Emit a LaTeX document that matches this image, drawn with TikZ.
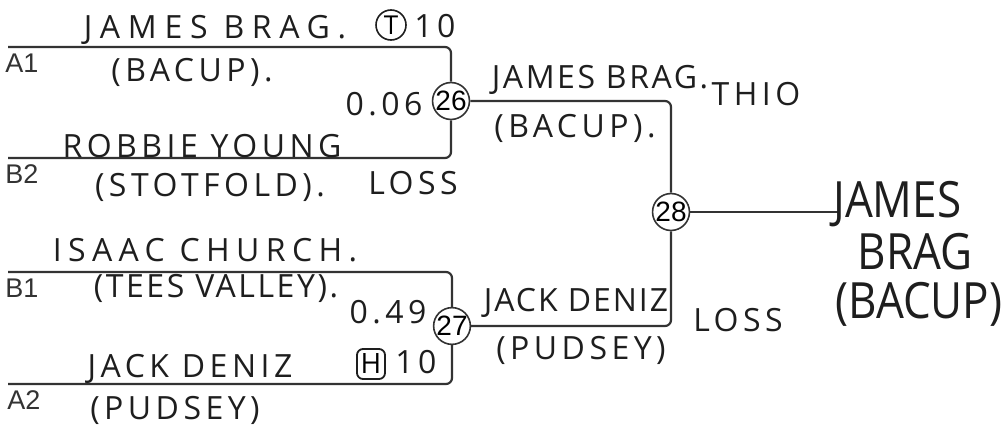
\documentclass[tikz,border=0pt]{standalone}
\usepackage{fontspec}
\setmainfont{Liberation Sans}
\newfontfamily\handfont[LetterSpace=14]{Open Sans}
\newfontfamily\bighand{Open Sans}
\usetikzlibrary{positioning}
\definecolor{inkgray}{HTML}{333333}
\definecolor{penink}{HTML}{1E1E1E}
\tikzset{
  bracket/.style={line width=1.1pt, inkgray, rounded corners=3pt},
  matchnode/.style={draw=inkgray, line width=0.8pt, circle, fill=white, minimum size=18pt, inner sep=0pt, font=\fontsize{14}{15}\selectfont},
  slotlabel/.style={font=\fontsize{13.5}{15}\selectfont, inkgray, inner sep=0pt},
  handtext/.style={font=\handfont\fontsize{16}{18}\selectfont, penink, inner sep=0pt},
  champtext/.style={font=\bighand\fontsize{25}{27}\selectfont, penink, inner sep=0pt, text height=18pt, text depth=0pt, xscale=0.88, transform shape},
  seedcircle/.style={draw=penink, line width=0.8pt, circle, minimum size=15pt, inner sep=0pt, font=\handfont\fontsize{13}{14}\selectfont},
  seedsquare/.style={draw=penink, line width=0.9pt, rounded corners=3pt, minimum width=14pt, minimum height=15pt, inner sep=0pt, font=\handfont\fontsize{14}{15}\selectfont}
}

\begin{document}
\begin{tikzpicture}[x=0.5pt, y=-0.5pt]
  \useasboundingbox (0,0) rectangle (1006,439);
  % slot ends
  \coordinate (a1) at (8,47);
  \coordinate (b2) at (8,158);
  \coordinate (b1) at (8,272);
  \coordinate (a2) at (8,384);
  \coordinate (win) at (840,212);
  % matches
  \node[matchnode] (m26) at (451,101) {26};
  \node[matchnode] (m27) at (452,326) {27};
  \node[matchnode] (m28) at (671,212) {28};
  \draw[bracket] (a1) -| (m26);
  \draw[bracket] (b2) -| (m26);
  \draw[bracket] (b1) -| (m27);
  \draw[bracket] (a2) -| (m27);
  \draw[bracket] (m26) -| (m28);
  \draw[bracket] (m27) -| (m28);
  \draw[bracket] (m28) -- (win);
  % slot labels
  \node[slotlabel] (lA1) at (22,63) {A1};
  \node[slotlabel] (lB2) at (22,174) {B2};
  \node[slotlabel] (lB1) at (22,288) {B1};
  \node[slotlabel] (lA2) at (24,400) {A2};
  % first round, top
  \node[handtext] (p1name) at (215,30) {\addfontfeature{LetterSpace=24}JAMES BRAG.};
  \node[seedcircle] (p1seed) at (391,25) {T};
  \node[handtext] (p1pts) at (435,26) {10};
  \node[handtext] (p1club) at (192,72) {(BACUP).};
  \node[handtext] (sc26) at (384,104) {0.06};
  \node[handtext] (p2name) at (202,146) {ROBBIE YOUNG};
  \node[handtext] (p2club) at (210,187) {(STOTFOLD).};
  \node[handtext] (loss26) at (413,183) {LOSS};
  % first round, bottom
  \node[handtext] (p3name) at (205,250) {\addfontfeature{LetterSpace=20}ISAAC CHURCH.};
  \node[handtext] (p3club) at (216,288) {\addfontfeature{LetterSpace=8}(TEES VALLEY).};
  \node[handtext] (sc27) at (388,312) {0.49};
  \node[seedsquare] (p4seed) at (371,364) {H};
  \node[handtext] (p4pts) at (416,362) {10};
  \node[handtext] (p4name) at (190,369) {JACK DENIZ};
  \node[handtext] (p4club) at (175,410) {(PUDSEY)};
  % semi final
  \node[handtext] (w26name) at (600,80) {\addfontfeature{LetterSpace=8}JAMES BRAG.};
  \node[handtext] (w26seed) at (756,94) {THIO};
  \node[handtext] (w26club) at (575,128) {(BACUP).};
  \node[handtext] (w27name) at (576,303) {\addfontfeature{LetterSpace=6}JACK DENIZ};
  \node[handtext] (w27club) at (581,350) {(PUDSEY)};
  \node[handtext] (loss28) at (738,320) {LOSS};
  % winner
  \node[champtext, anchor=west] (champ1) at (833,199) {JAMES};
  \node[champtext] (champ2) at (915,251) {BRAG};
  \node[champtext] (champ3) at (919,300) {(BACUP)};
\end{tikzpicture}
\end{document}
